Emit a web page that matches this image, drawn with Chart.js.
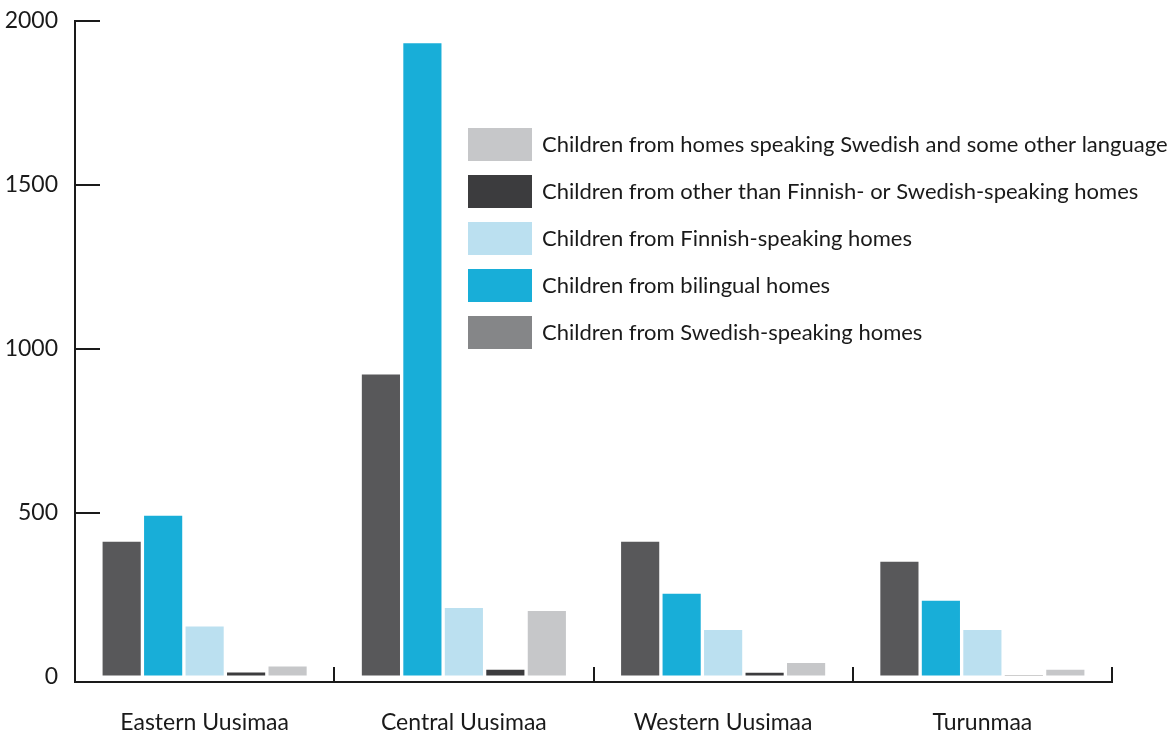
<!DOCTYPE html>
<html><head><meta charset="utf-8">
<script src="https://cdn.jsdelivr.net/npm/chart.js@4.4.1/dist/chart.umd.min.js"></script>
<style>html,body{margin:0;padding:0;background:#fff}#wrap{width:1171px;height:736px}</style>
</head><body><div id="wrap"><canvas id="c" width="1171" height="736"></canvas></div>
<script>
const categories = ['Eastern Uusimaa', 'Central Uusimaa', 'Western Uusimaa', 'Turunmaa'];
const swedishSpeaking = [411, 921, 411, 350];
const bilingual = [490, 1932, 252, 231];
const finnishSpeaking = [152, 209, 142, 142];
const otherLanguage = [12, 20, 11, 2];
const swedishAndOther = [30, 200, 41, 20];
const yTicks = [0, 500, 1000, 1500, 2000];
const seriesLabels = [
  'Children from Swedish-speaking homes',
  'Children from bilingual homes',
  'Children from Finnish-speaking homes',
  'Children from other than Finnish- or Swedish-speaking homes',
  'Children from homes speaking Swedish and some other language'
];
const barColors = ['#58585a', '#18aed8', '#bbe0f0', '#3c3c3e', '#c6c7c9'];
const legendColors = ['#858688', '#18aed8', '#bbe0f0', '#3c3c3e', '#c6c7c9'];
const seriesValues = [swedishSpeaking, bilingual, finnishSpeaking, otherLanguage, swedishAndOther];

const FONT = 'Lato';
const AXIS = '#1a1a1a';

const legendPlugin = {
  id: 'customLegend',
  afterDraw(chart) {
    const ctx = chart.ctx;
    ctx.save();
    ctx.font = '22px ' + FONT;
    ctx.textBaseline = 'middle';
    ctx.textAlign = 'left';
    const n = chart.data.datasets.length;
    for (let k = 0; k < n; k++) {
      const i = n - 1 - k;
      const y = 128 + k * 47;
      ctx.fillStyle = legendColors[i];
      ctx.fillRect(468, y, 64, 33);
      ctx.fillStyle = '#1a1a1a';
      ctx.fillText(chart.data.datasets[i].label, 542, y + 17);
    }
    ctx.restore();
  }
};

new Chart(document.getElementById('c'), {
  type: 'bar',
  data: {
    labels: categories,
    datasets: seriesValues.map((vals, i) => ({
      label: seriesLabels[i],
      data: vals,
      backgroundColor: barColors[i],
      borderWidth: 0,
      categoryPercentage: 0.8,
      barPercentage: 0.92
    }))
  },
  options: {
    responsive: false,
    animation: false,
    devicePixelRatio: 1,
    layout: { padding: { top: 21, right: 59, left: 0, bottom: 0 } },
    plugins: { legend: { display: false }, tooltip: { enabled: false } },
    scales: {
      x: {
        type: 'category',
        offset: true,
        grid: { display: true, offset: true, drawOnChartArea: false, drawTicks: true, tickLength: -15, color: AXIS, lineWidth: 2 },
        border: { display: true, color: AXIS, width: 2 },
        ticks: { font: { family: FONT, size: 23 }, color: '#1a1a1a', padding: 42, maxRotation: 0 },
        afterFit(s) { s.height = 54; s.paddingLeft = 0; s.paddingRight = 0; }
      },
      y: {
        min: -17,
        max: 2000,
        afterBuildTicks(s) { s.ticks = yTicks.map(v => ({ value: v })); },
        grid: {
          display: true, drawOnChartArea: false, drawTicks: true, tickLength: -25, lineWidth: 2,
          color: c => (c.tick && c.tick.value === 0) ? 'rgba(0,0,0,0)' : AXIS
        },
        border: { display: true, color: AXIS, width: 2 },
        ticks: { font: { family: FONT, size: 23 }, color: '#1a1a1a', padding: 42, callback: v => String(v) },
        afterFit(s) { s.width = 75; s.paddingTop = 0; s.paddingBottom = 0; }
      }
    }
  },
  plugins: [legendPlugin]
});
</script>
</body></html>
